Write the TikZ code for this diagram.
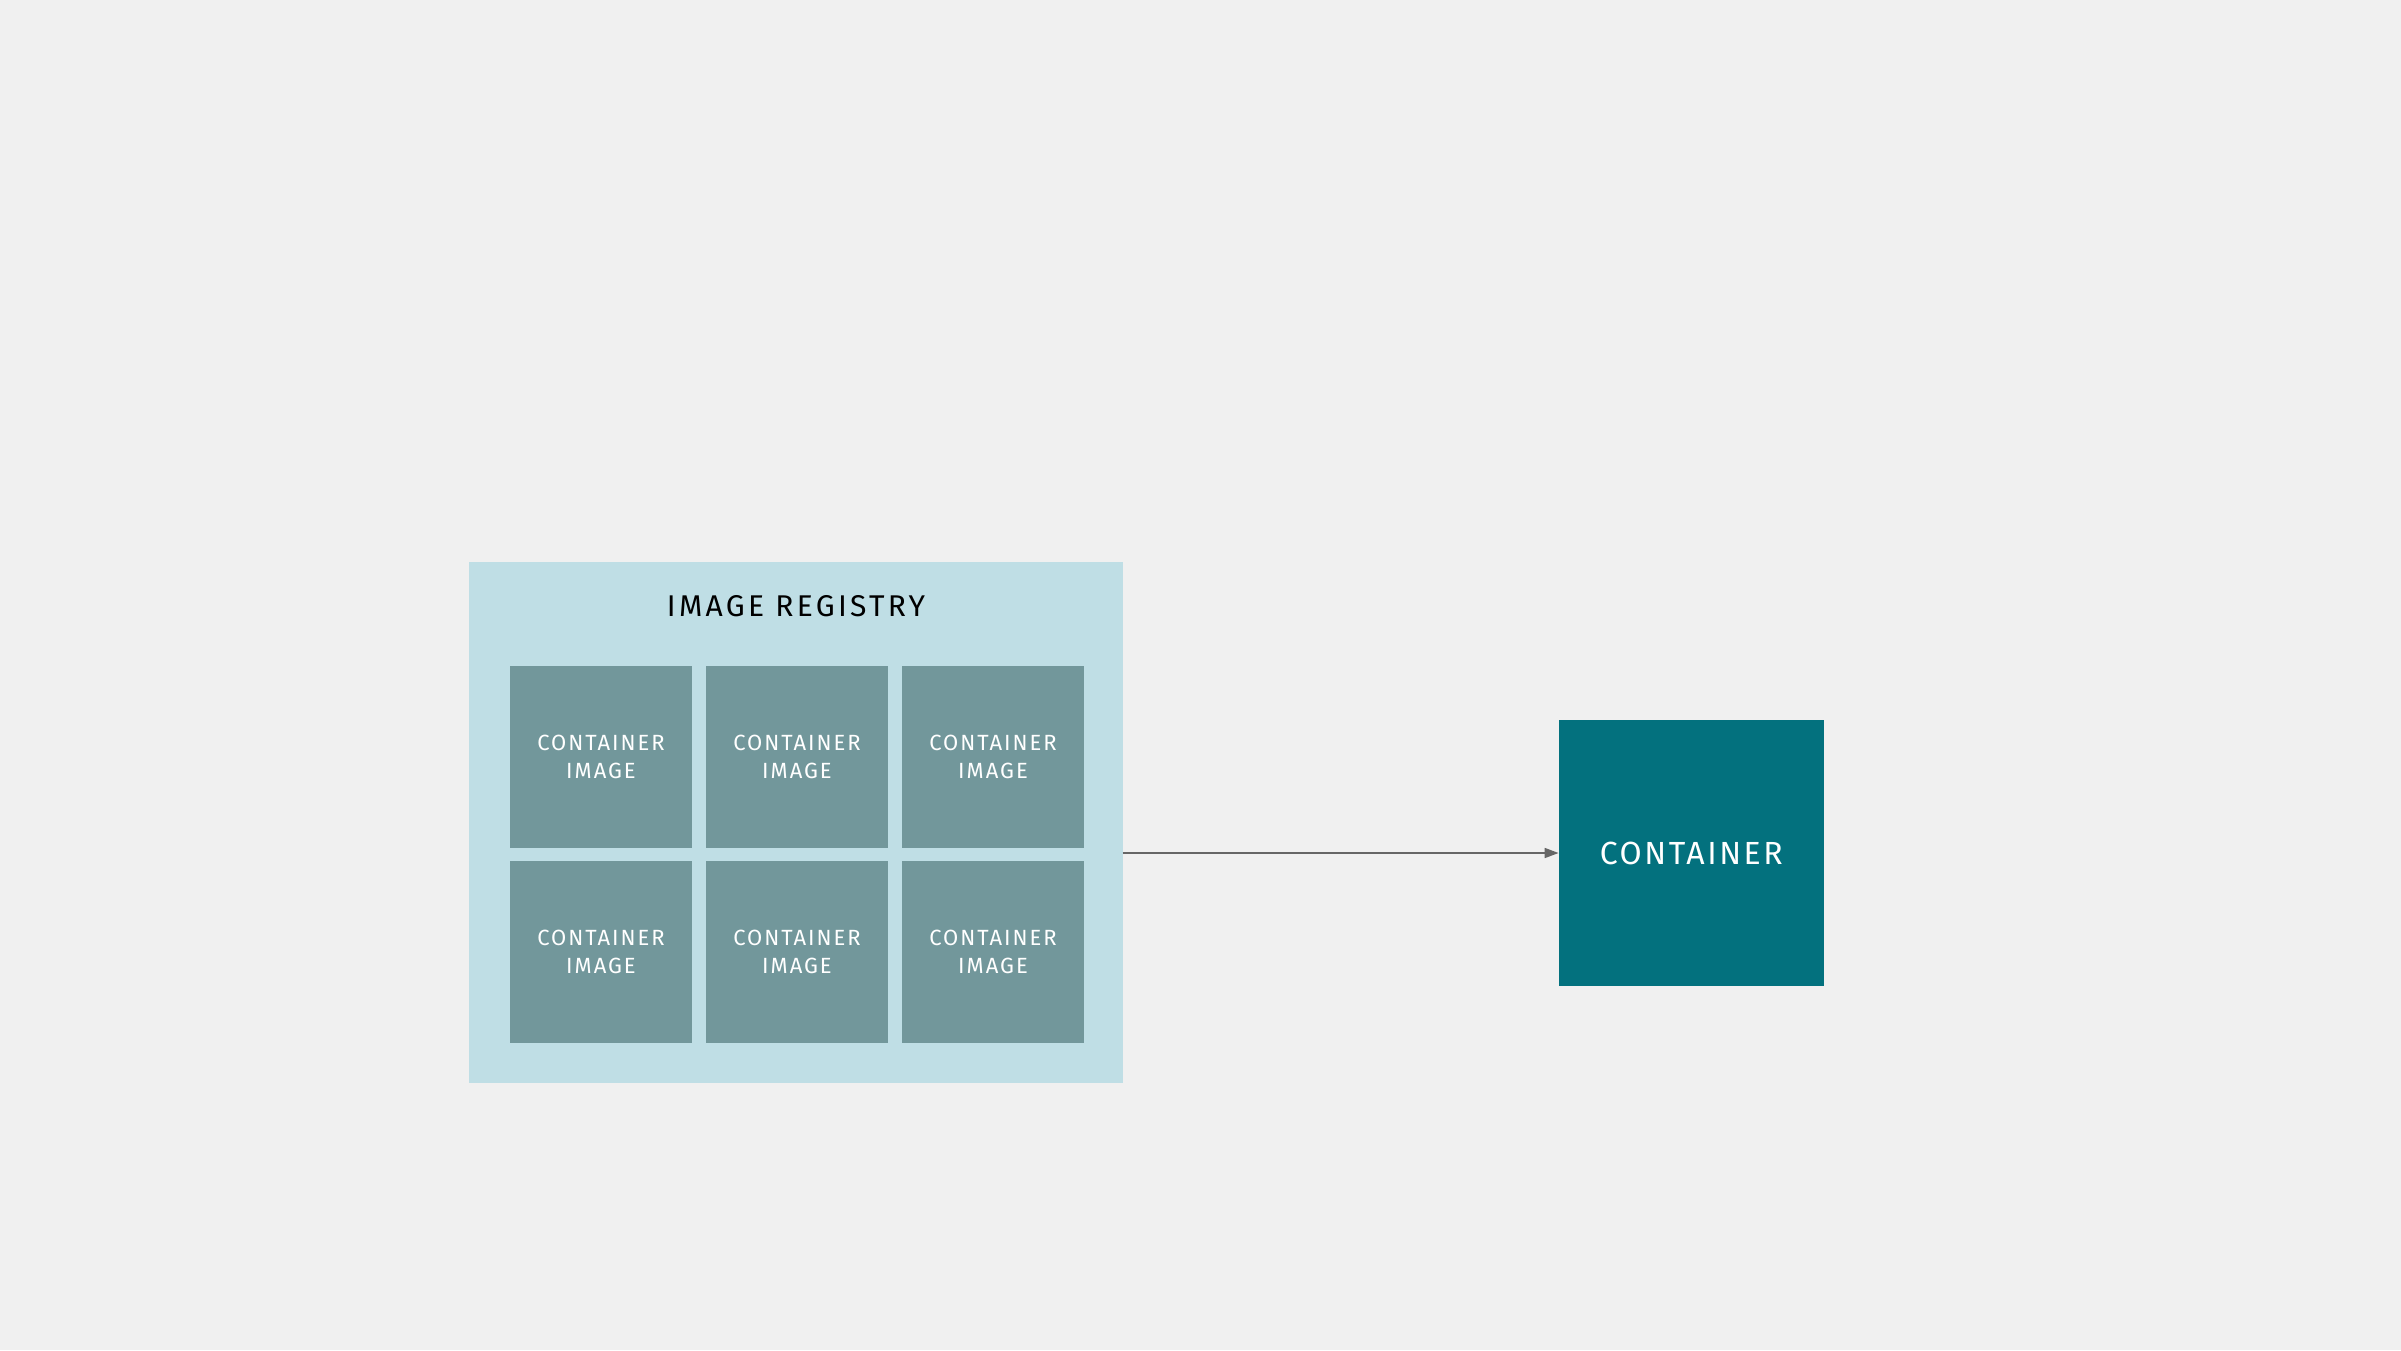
\documentclass[tikz,border=0pt]{standalone}
\usepackage{fontspec}
\setmainfont{Fira Sans}
\usetikzlibrary{positioning,arrows.meta}
\definecolor{bgcol}{HTML}{F0F0F0}
\definecolor{regcol}{HTML}{BFDEE5}
\definecolor{imgcol}{HTML}{72979B}
\definecolor{ctrcol}{HTML}{03717E}
\definecolor{arrcol}{HTML}{666666}
\begin{document}
\begin{tikzpicture}[x=1pt,y=-1pt,
    registry/.style={fill=regcol, minimum width=654pt, minimum height=521pt, inner sep=0pt},
    imagebox/.style={fill=imgcol, minimum width=182pt, minimum height=182pt, inner sep=0pt,
        text=white, align=center, font=\fontsize{22}{28}\selectfont\addfontfeature{LetterSpace=9}},
    ctrbox/.style={fill=ctrcol, minimum width=265pt, minimum height=266pt, inner sep=0pt,
        text=white, font=\fontsize{32}{36}\selectfont\addfontfeature{LetterSpace=8}}]
        % page
        \fill[bgcol] (0,0) rectangle (2401,1350);
        \useasboundingbox (0,0) rectangle (2401,1350);

        % registry with its images
        \node[registry] (registry) at (795.5,822.3) {};
        \node[font=\fontsize{30}{34}\selectfont\addfontfeature{LetterSpace=11}] (regtitle) at (796,606) {IMAGE REGISTRY};
        \foreach \row/\y in {1/757.2,2/951.7} {
            \foreach \col/\x in {1/601,2/797,3/993} {
                \node[imagebox] (img\row\col) at (\x,\y) {CONTAINER\\IMAGE};
            }
        }

        % container
        \node[ctrbox] (container) at (1691.3,853) {CONTAINER};

        \draw[arrcol, line width=1.6pt, -{Triangle[length=14pt,width=10pt]}] (registry.east |- container.west) -- (container.west);
    \end{tikzpicture}
\end{document}
